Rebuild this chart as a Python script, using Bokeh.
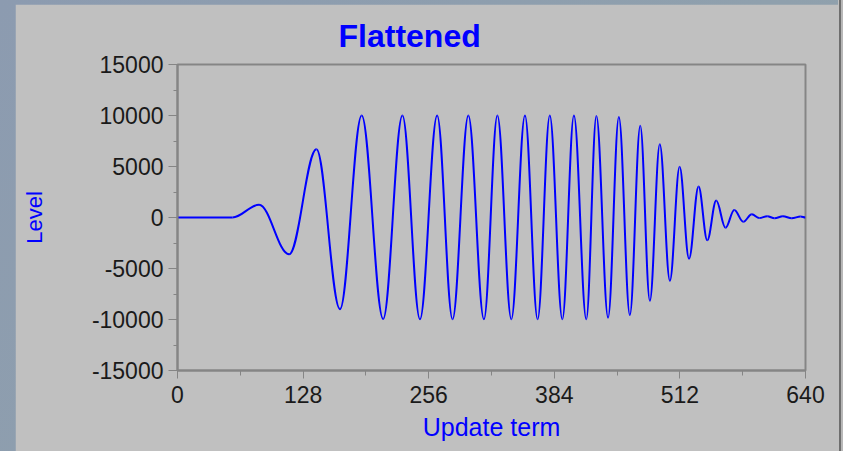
import numpy as np
from bokeh.plotting import figure
from bokeh.models import FixedTicker, Range1d
from bokeh.layouts import column
from bokeh.embed import file_html
from bokeh.resources import INLINE

# extrema of the waveform (x = update term, y = level)
ext_x = [0, 56, 83.1, 113.7, 141.6, 165.6, 187.7, 209.6, 229.2, 247.1, 264.6, 280.3,
         296.4, 312.3, 326.0, 340.2, 354.1, 367.0, 379.4, 392.2, 404.0, 416.6, 426.9,
         438.8, 449.8, 461.0, 471.6, 481.4, 491.5, 501.8, 511.7, 521.3, 531.0, 539.9,
         549.0, 558.5, 567.4, 576.6, 585.3, 593.0, 601.0, 608.5, 617.0, 626.0, 635.0, 640]
ext_y = [0, 0, 1240, -3610, 6680, -8990, 10000, -9950, 10000, -9980, 10000, -9980,
         10000, -9980, 10000, -9980, 10000, -9980, 10000, -9980, 10000, -9980, 9950,
         -9820, 9850, -9560, 8990, -8170, 7180, -6190, 4970, -4040, 3050, -2230,
         1660, -1010, 740, -420, 320, -60, 130, -80, 130, -70, 100, 0]

x_ticks = [0, 128, 256, 384, 512, 640]
x_minor = [64, 192, 320, 448, 576]
y_ticks = [-15000, -10000, -5000, 0, 5000, 10000, 15000]
y_minor = [-12500, -7500, -2500, 2500, 7500, 12500]

GRAY = "#c0c0c0"
AXIS = "#858585"
BLUE = "#0000ff"

p = figure(width=823, height=447, output_backend="svg", toolbar_location=None,
           x_range=Range1d(0, 640), y_range=Range1d(-15000, 15000),
           min_border_left=162, min_border_right=33, min_border_top=60,
           min_border_bottom=81, background_fill_color=GRAY,
           border_fill_color=GRAY, margin=(4, 5, 0, 15))

p.title.text = "Flattened"
p.title.text_font = "Liberation Sans"
p.title.text_font_style = "bold"
p.title.text_font_size = "32px"
p.title.text_line_height = 1.0
p.title.text_color = BLUE
p.title.align = "left"
p.title.offset = 161
p.title.standoff = 21

p.grid.visible = False
p.outline_line_color = AXIS
p.outline_line_width = 2

# waveform drawn as smooth segments between the read extrema
xa = np.array(ext_x, dtype=float)
ya = np.array(ext_y, dtype=float)
x0, x1 = xa[:-1], xa[1:]
y0, y1 = ya[:-1], ya[1:]
d = (x1 - x0) * 0.3634
p.bezier(x0=x0, y0=y0, x1=x1, y1=y1, cx0=x0 + d, cy0=y0, cx1=x1 - d, cy1=y1,
         line_color=BLUE, line_width=2)

xa_ = p.xaxis[0]
xa_.ticker = FixedTicker(ticks=x_ticks, minor_ticks=x_minor)
xa_.axis_label = "Update term"
xa_.major_tick_out = 8
xa_.minor_tick_out = 5
xa_.major_label_standoff = 7
xa_.axis_label_standoff = 7

ya_ = p.yaxis[0]
ya_.ticker = FixedTicker(ticks=y_ticks, minor_ticks=y_minor)
ya_.axis_label = "Level"
ya_.major_tick_out = 9
ya_.minor_tick_out = 4
ya_.major_label_standoff = 5
ya_.axis_label_standoff = 42
ya_.major_label_overrides = {t: str(t) for t in y_ticks}

for ax in (xa_, ya_):
    ax.axis_line_color = AXIS
    ax.axis_line_width = 2
    ax.major_tick_line_color = AXIS
    ax.minor_tick_line_color = AXIS
    ax.major_tick_in = 0
    ax.minor_tick_in = 0
    ax.major_label_text_font = "Liberation Sans"
    ax.major_label_text_font_size = "23px"
    ax.major_label_text_color = "#1a1a1a"
    ax.axis_label_text_font = "Liberation Sans"
    ax.axis_label_text_font_style = "normal"
    ax.axis_label_text_color = BLUE

xa_.axis_label_text_font_size = "25px"
ya_.axis_label_text_font_size = "22px"

bg = ("linear-gradient(to right, rgba(0,0,0,0) 838px, #c0c0c0 838px, #c0c0c0 839px, "
      "#6e6e6e 839px, #6e6e6e 841px, #b8b8b8 841px), "
      "linear-gradient(135deg, #8c9bb0 0%, #8fa0ad 60%, #93a3aa 100%)")
layout = column(p, styles={"background": bg})

open("out.html", "w").write(file_html(layout, INLINE))
